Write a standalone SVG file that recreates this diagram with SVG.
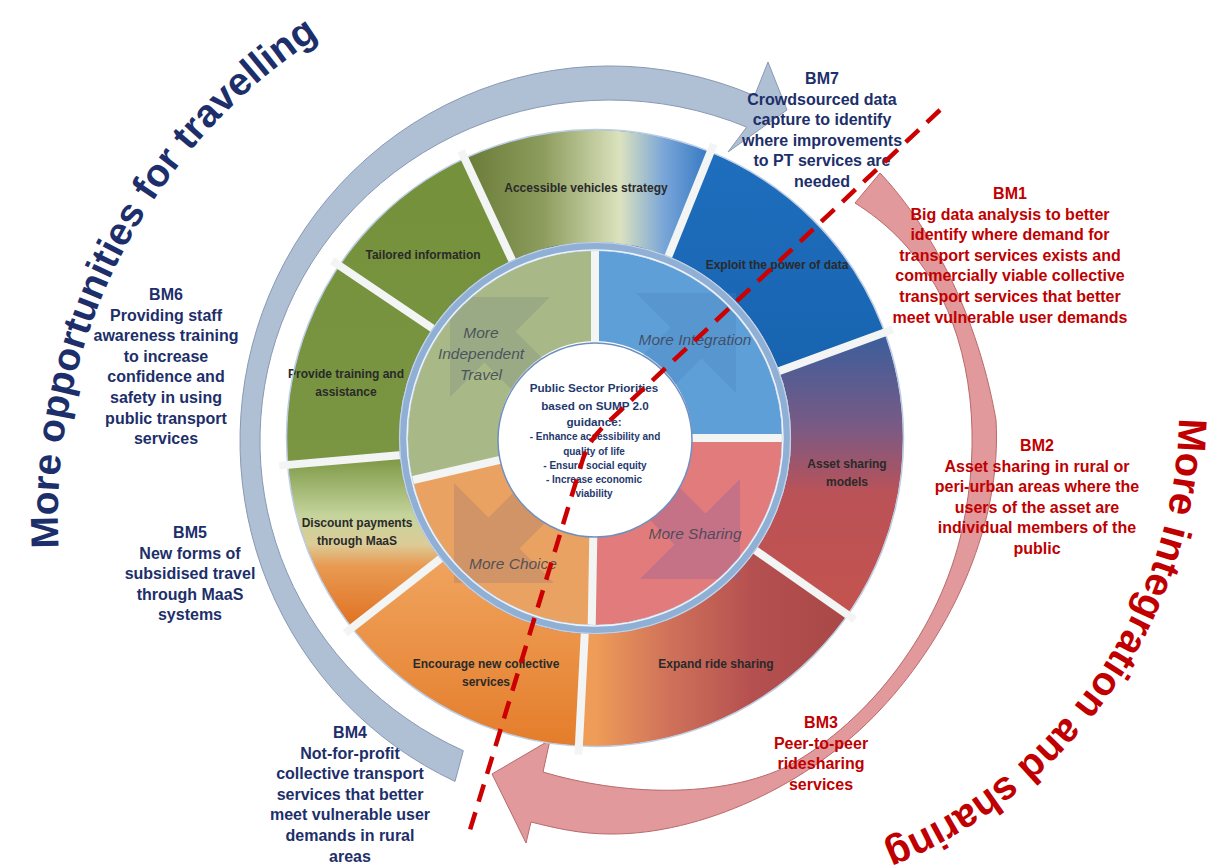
<svg xmlns="http://www.w3.org/2000/svg" xmlns:xlink="http://www.w3.org/1999/xlink" width="1230" height="866" viewBox="0 0 1230 866">
  <defs>
    <style>
      .seg { fill: none; stroke-width: 112; }
      .quad { fill: none; stroke-width: 90; }
      .gap { stroke: #f3f4f4; stroke-width: 8; }
      .lbl { font-family: "Liberation Sans", Arial, sans-serif; font-weight: bold; font-size: 12px; fill: #2a2a2a; text-anchor: middle; }
      .inner-lbl { font-family: "Liberation Sans", Arial, sans-serif; font-style: italic; font-size: 15.5px; fill: #3b4354; fill-opacity: 0.85; text-anchor: middle; }
      .ctr { font-family: "Liberation Sans", Arial, sans-serif; font-weight: bold; fill: #1f3a6e; text-anchor: middle; }
      .ctr-h { font-size: 11.7px; }
      .ctr-s { font-size: 10px; }
      .bm { font-family: "Liberation Sans", Arial, sans-serif; font-weight: bold; font-size: 16px; text-anchor: middle; }
      .navy { fill: #1d2f6a; }
      .red { fill: #c00000; }
      .arc-title { font-family: "Liberation Sans", Arial, sans-serif; font-weight: bold; }
      .arrowmark { stroke: none; }
    </style>
    <linearGradient id="gAccess" gradientUnits="userSpaceOnUse" x1="470" y1="0" x2="712" y2="0">
      <stop offset="0" stop-color="#6c7d3a"/>
      <stop offset="0.3" stop-color="#8c9c5c"/>
      <stop offset="0.62" stop-color="#dbe2be"/>
      <stop offset="0.8" stop-color="#7aa6d8"/>
      <stop offset="1" stop-color="#2f75c2"/>
    </linearGradient>
    <linearGradient id="gExploit" gradientUnits="userSpaceOnUse" x1="0" y1="140" x2="0" y2="380">
      <stop offset="0" stop-color="#1f6fbe"/>
      <stop offset="1" stop-color="#1763b0"/>
    </linearGradient>
    <linearGradient id="gAsset" gradientUnits="userSpaceOnUse" x1="0" y1="335" x2="0" y2="600">
      <stop offset="0" stop-color="#3b5e9c"/>
      <stop offset="0.35" stop-color="#7a5a84"/>
      <stop offset="0.6" stop-color="#bb5257"/>
      <stop offset="1" stop-color="#c2534f"/>
    </linearGradient>
    <linearGradient id="gExpand" gradientUnits="userSpaceOnUse" x1="595" y1="0" x2="880" y2="0">
      <stop offset="0" stop-color="#ee9c58"/>
      <stop offset="0.25" stop-color="#d0735a"/>
      <stop offset="0.55" stop-color="#b55050"/>
      <stop offset="1" stop-color="#a44543"/>
    </linearGradient>
    <linearGradient id="gEncourage" gradientUnits="userSpaceOnUse" x1="0" y1="560" x2="0" y2="745">
      <stop offset="0" stop-color="#f0a45e"/>
      <stop offset="1" stop-color="#e47d2b"/>
    </linearGradient>
    <linearGradient id="gDiscount" gradientUnits="userSpaceOnUse" x1="0" y1="460" x2="0" y2="628">
      <stop offset="0" stop-color="#7f9a48"/>
      <stop offset="0.33" stop-color="#c5d49c"/>
      <stop offset="0.5" stop-color="#dccc98"/>
      <stop offset="0.63" stop-color="#e89a52"/>
      <stop offset="1" stop-color="#e07020"/>
    </linearGradient>
    <linearGradient id="gGreen" gradientUnits="userSpaceOnUse" x1="0" y1="130" x2="0" y2="470">
      <stop offset="0" stop-color="#74903a"/>
      <stop offset="1" stop-color="#7a9643"/>
    </linearGradient>
    <!-- baselines for the two curved headings -->
    <path id="leftArc" d="M 58.8 548 A 572 572 0 0 1 434.4 -20.5"/>
    <path id="rightArc" d="M 1178.9 418.2 A 470 470 0 0 1 790.6 872.9"/>
    <!-- quadrant marker: arrow pointing to the upper-left corner -->
    <polygon id="quadArrow" points="450,297 550,297 515.5,331.5 615.5,431.5 584.5,462.5 484.5,362.5 450,397"/>
  </defs>

  <rect width="1230" height="866" fill="#ffffff"/>

  <!-- curved cycle arrows -->
  <g id="connectors">
    <path id="arrow-travel" d="M 455 781.4 A 370 375 0 0 1 262.3 312.7 A 370 375 0 0 1 754.6 95.8 L 768 62 L 787 110 L 728 152 L 746.7 127.1 A 350 341 0 0 0 281.1 324.4 A 350 341 0 0 0 463.3 750.7 Z" fill="#b0c0d4" stroke="#8799b4" stroke-width="1"/>
    <path id="arrow-sharing" d="M 880 173 C 920 215, 975 300, 996 420 C 1002 520, 955 630, 880 710 C 810 785, 700 835, 610 834 C 580 834, 555 828, 531 822 L 526 843 L 492 774 L 550 740 L 543 772 C 620 795, 720 800, 790 765 C 870 720, 940 630, 962 530 C 982 440, 972 350, 935 285 C 910 245, 885 222, 855 203 Z" fill="#e2999b" stroke="#b86a6c" stroke-width="1"/>
  </g>

  <!-- outer ring of measures -->
  <g id="outer-ring">
    <g id="seg-asset">
      <circle cx="595" cy="438" r="252" class="seg" stroke="url(#gAsset)"/>
      <text class="lbl" x="847" y="468">Asset sharing</text>
      <text class="lbl" x="847" y="486">models</text>
    </g>
    <g id="seg-expand">
      <circle cx="595" cy="438" r="252" class="seg" stroke="url(#gExpand)" stroke-dasharray="0 153.94 255.10 2000"/>
      <text class="lbl" x="716" y="668">Expand ride sharing</text>
    </g>
    <g id="seg-encourage">
      <circle cx="595" cy="438" r="252" class="seg" stroke="url(#gEncourage)" stroke-dasharray="0 409.03 215.51 2000"/>
      <text class="lbl" x="486" y="668">Encourage new collective</text>
      <text class="lbl" x="486" y="686">services</text>
    </g>
    <g id="seg-discount">
      <circle cx="595" cy="438" r="252" class="seg" stroke="url(#gDiscount)" stroke-dasharray="0 624.54 145.14 2000"/>
      <text class="lbl" x="357" y="527">Discount payments</text>
      <text class="lbl" x="357" y="545">through MaaS</text>
    </g>
    <g id="seg-training">
      <circle cx="595" cy="438" r="252" class="seg" stroke="url(#gGreen)" stroke-dasharray="0 769.69 171.53 2000"/>
      <text class="lbl" x="346" y="378">Provide training and</text>
      <text class="lbl" x="346" y="396">assistance</text>
    </g>
    <g id="seg-tailored">
      <circle cx="595" cy="438" r="252" class="seg" stroke="url(#gGreen)" stroke-dasharray="0 941.22 136.34 2000"/>
      <text class="lbl" x="423" y="259">Tailored information</text>
    </g>
    <g id="seg-accessible">
      <circle cx="595" cy="438" r="252" class="seg" stroke="url(#gAccess)" stroke-dasharray="0 1077.56 206.72 2000"/>
      <text class="lbl" x="586" y="192">Accessible vehicles strategy</text>
    </g>
    <g id="seg-exploit">
      <circle cx="595" cy="438" r="252" class="seg" stroke="url(#gExploit)" stroke-dasharray="0 1284.28 211.11 2000"/>
      <text class="lbl" x="777" y="269">Exploit the power of data</text>
    </g>
    <circle cx="595" cy="438" r="308.5" fill="none" stroke="#bccde3" stroke-width="1.5"/>
    <!-- separators between the outer segments -->
    <g class="gap">
      <line x1="789" y1="438" x2="912" y2="438" transform="rotate(35 595 438)"/>
      <line x1="789" y1="438" x2="912" y2="438" transform="rotate(93 595 438)"/>
      <line x1="789" y1="438" x2="912" y2="438" transform="rotate(142 595 438)"/>
      <line x1="789" y1="438" x2="912" y2="438" transform="rotate(175 595 438)"/>
      <line x1="789" y1="438" x2="912" y2="438" transform="rotate(214 595 438)"/>
      <line x1="789" y1="438" x2="912" y2="438" transform="rotate(245 595 438)"/>
      <line x1="789" y1="438" x2="912" y2="438" transform="rotate(292 595 438)"/>
      <line x1="789" y1="438" x2="912" y2="438" transform="rotate(340 595 438)"/>
    </g>
  </g>

  <!-- inner ring of priorities -->
  <g id="inner-ring">
    <g id="quad-sharing">
      <circle cx="595" cy="438" r="142" class="quad" stroke="#e27c7c" stroke-dasharray="0 0 225.53 2000"/>
      <use href="#quadArrow" class="arrowmark" fill="#8a5a9a" fill-opacity="0.32" transform="rotate(180 595 438)"/>
    </g>
    <g id="quad-choice">
      <circle cx="595" cy="438" r="142" class="quad" stroke="#eaa262" stroke-dasharray="0 225.53 188.36 2000"/>
      <use href="#quadArrow" class="arrowmark" fill="#a07a70" fill-opacity="0.35" transform="rotate(270 595 438)"/>
    </g>
    <g id="quad-independent">
      <circle cx="595" cy="438" r="142" class="quad" stroke="#a8b887" stroke-dasharray="0 413.89 255.28 2000"/>
      <use href="#quadArrow" class="arrowmark" fill="#6a8080" fill-opacity="0.25"/>
    </g>
    <g id="quad-integration">
      <circle cx="595" cy="438" r="142" class="quad" stroke="#5f9fd7" stroke-dasharray="0 669.17 223.06 2000"/>
      <use href="#quadArrow" class="arrowmark" fill="#4a80c0" fill-opacity="0.3" transform="rotate(90 595 438)"/>
    </g>
    <g class="gap">
      <line x1="688" y1="438" x2="784" y2="438"/>
      <line x1="688" y1="438" x2="784" y2="438" transform="rotate(91 595 438)"/>
      <line x1="688" y1="438" x2="784" y2="438" transform="rotate(167 595 438)"/>
      <line x1="688" y1="438" x2="784" y2="438" transform="rotate(270 595 438)"/>
    </g>
    <circle cx="595" cy="438" r="191.5" fill="none" stroke="#90afd5" stroke-width="9"/>
    <circle cx="595" cy="438" r="188" fill="none" stroke="#eef3f9" stroke-width="1.5"/>
    <circle cx="595" cy="438" r="195.5" fill="none" stroke="#c2d3e8" stroke-width="1.2"/>
    <text class="inner-lbl" x="481" y="338">More</text>
    <text class="inner-lbl" x="481" y="359">Independent</text>
    <text class="inner-lbl" x="481" y="380">Travel</text>
    <text class="inner-lbl" x="695" y="345">More Integration</text>
    <text class="inner-lbl" x="695" y="539">More Sharing</text>
    <text class="inner-lbl" x="513" y="569">More Choice</text>
  </g>

  <!-- central priorities -->
  <g id="centre">
    <circle cx="595" cy="440" r="97" fill="#ffffff" stroke="#6f8fbf" stroke-width="1.5"/>
    <text class="ctr ctr-h" x="594" y="392">Public Sector Priorities</text>
    <text class="ctr ctr-h" x="595" y="410">based on SUMP 2.0</text>
    <text class="ctr ctr-h" x="594" y="426">guidance:</text>
    <text class="ctr ctr-s" x="595" y="440">- Enhance accessibility and</text>
    <text class="ctr ctr-s" x="594" y="454.5">quality of life</text>
    <text class="ctr ctr-s" x="595" y="468.5">- Ensure social equity</text>
    <text class="ctr ctr-s" x="594" y="482.5">- Increase economic</text>
    <text class="ctr ctr-s" x="594" y="496.5">viability</text>
  </g>

  <!-- curved headings -->
  <g id="heading-travel">
    <text class="arc-title" font-size="39" fill="#1d2f6a"><textPath href="#leftArc">More opportunities for travelling</textPath></text>
  </g>
  <g id="heading-sharing">
    <text class="arc-title" font-size="40" fill="#c00000"><textPath href="#rightArc">More integration and sharing</textPath></text>
  </g>

  <!-- business models -->
  <g id="bm7" class="bm navy">
    <text x="822" y="84">BM7</text>
    <text x="822" y="104.6">Crowdsourced data</text>
    <text x="822" y="125.2">capture to identify</text>
    <text x="822" y="145.8">where improvements</text>
    <text x="822" y="166.4">to PT services are</text>
    <text x="822" y="187">needed</text>
  </g>
  <g id="bm1" class="bm red">
    <text x="1010" y="199">BM1</text>
    <text x="1010" y="219.6">Big data analysis to better</text>
    <text x="1010" y="240.2">identify where demand for</text>
    <text x="1010" y="260.8">transport services exists and</text>
    <text x="1010" y="281.4">commercially viable collective</text>
    <text x="1010" y="302">transport services that better</text>
    <text x="1010" y="322.6">meet vulnerable user demands</text>
  </g>
  <g id="bm2" class="bm red">
    <text x="1037" y="451">BM2</text>
    <text x="1037" y="471.6">Asset sharing in rural or</text>
    <text x="1037" y="492.2">peri-urban areas where the</text>
    <text x="1037" y="512.8">users of the asset are</text>
    <text x="1037" y="533.4">individual members of the</text>
    <text x="1037" y="554">public</text>
  </g>
  <g id="bm3" class="bm red">
    <text x="821" y="728">BM3</text>
    <text x="821" y="748.6">Peer-to-peer</text>
    <text x="821" y="769.2">ridesharing</text>
    <text x="821" y="789.8">services</text>
  </g>
  <g id="bm4" class="bm navy">
    <text x="350" y="738">BM4</text>
    <text x="350" y="758.6">Not-for-profit</text>
    <text x="350" y="779.2">collective transport</text>
    <text x="350" y="799.8">services that better</text>
    <text x="350" y="820.4">meet vulnerable user</text>
    <text x="350" y="841">demands in rural</text>
    <text x="350" y="861.6">areas</text>
  </g>
  <g id="bm5" class="bm navy">
    <text x="190" y="538">BM5</text>
    <text x="190" y="558.6">New forms of</text>
    <text x="190" y="579.2">subsidised travel</text>
    <text x="190" y="599.8">through MaaS</text>
    <text x="190" y="620.4">systems</text>
  </g>
  <g id="bm6" class="bm navy">
    <text x="166" y="300">BM6</text>
    <text x="166" y="320.6">Providing staff</text>
    <text x="166" y="341.2">awareness training</text>
    <text x="166" y="361.8">to increase</text>
    <text x="166" y="382.4">confidence and</text>
    <text x="166" y="403">safety in using</text>
    <text x="166" y="423.6">public transport</text>
    <text x="166" y="444.2">services</text>
  </g>

  <!-- dividing line between the two halves -->
  <g id="divider">
    <path d="M 940 110 L 605 425 Q 588 441 582 462 L 470 830" fill="none" stroke="#cc0000" stroke-width="4.5" stroke-dasharray="18 11"/>
  </g>
</svg>
